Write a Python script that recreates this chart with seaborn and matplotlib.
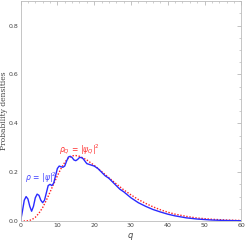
import numpy as np
import pandas as pd
import seaborn as sns
import matplotlib.pyplot as plt

# blue: rho = |psi|^2
q_psi = [0, 0.5, 1.0, 1.5, 2.0, 2.5, 3.0, 3.5, 4.0, 4.5, 5.0, 5.5, 6.0, 6.5, 7.0, 7.5, 8.0, 8.5,
         9.0, 9.5, 10.0, 10.5, 11.0, 11.5, 12.0, 12.5, 13.0, 13.5, 14.0, 14.5, 15.0, 15.5, 16.0,
         16.5, 17.0, 17.5, 18.0, 19.0, 20.0, 21.0, 22.0, 23.0, 24.0, 25.0, 26.0, 27.0, 28.0, 30.0,
         32.0, 34.0, 36.0, 38.0, 40.0, 42.0, 45.0, 48.0, 52.0, 56.0, 60.0]
rho_psi = [0.0, 0.04, 0.085, 0.10, 0.09, 0.06, 0.04, 0.06, 0.095, 0.11, 0.105, 0.085, 0.075, 0.085,
           0.115, 0.145, 0.15, 0.145, 0.155, 0.185, 0.215, 0.225, 0.222, 0.22, 0.225, 0.245, 0.262,
           0.265, 0.26, 0.25, 0.247, 0.252, 0.26, 0.26, 0.255, 0.245, 0.235, 0.23, 0.225, 0.215,
           0.2, 0.185, 0.175, 0.16, 0.145, 0.13, 0.12, 0.095, 0.075, 0.06, 0.047, 0.037, 0.028,
           0.021, 0.013, 0.008, 0.004, 0.002, 0.001]

# red dotted: rho_Q = |psi_Q|^2
q_Q = [0, 1, 2, 3, 4, 5, 6, 7, 8, 9, 10, 11, 12, 13, 14, 15, 16, 17, 18, 20, 22, 24, 26, 28,
       30, 32, 34, 36, 38, 40, 42, 45, 48, 52, 56, 60]
rho_Q = [0.0, 0.0, 0.001, 0.005, 0.015, 0.032, 0.055, 0.085, 0.118, 0.152, 0.185, 0.215, 0.24,
         0.258, 0.267, 0.268, 0.265, 0.258, 0.25, 0.228, 0.203, 0.177, 0.152, 0.128, 0.107,
         0.088, 0.072, 0.058, 0.046, 0.036, 0.028, 0.019, 0.012, 0.007, 0.004, 0.002]

sns.set_theme(style="white")
plt.rcParams['font.family'] = ['DejaVu Sans']

fig, ax = plt.subplots(figsize=(2.45, 2.41), dpi=100)
fig.subplots_adjust(left=0.084, right=0.985, top=0.995, bottom=0.083)

df_psi = pd.DataFrame({"q": q_psi, "rho": rho_psi})
df_Q = pd.DataFrame({"q": q_Q, "rho": rho_Q})
sns.lineplot(data=df_Q, x="q", y="rho", ax=ax, color="#ff2020", lw=1.0, linestyle=(0, (1, 1.2)))
sns.lineplot(data=df_psi, x="q", y="rho", ax=ax, color="#2a2aff", lw=1.0)

ax.set_xlim(0, 60)
ax.set_ylim(0, 0.9)
ax.set_xticks([0, 10, 20, 30, 40, 50, 60])
ax.set_yticks([0.0, 0.2, 0.4, 0.6, 0.8])
ax.set_yticklabels(["0.0", "0.2", "0.4", "0.6", "0.8"])
ax.set_xticks(np.arange(0, 61, 2), minor=True)
ax.set_yticks(np.arange(0, 0.91, 0.05), minor=True)
ax.tick_params(which="both", direction="in", top=True, right=True, colors="#aaaaaa",
               labelcolor="#444444", labelsize=4.5, pad=1.5)
ax.tick_params(which="major", length=3, width=0.5)
ax.tick_params(which="minor", length=1.5, width=0.4)
for s in ax.spines.values():
    s.set_color("#bbbbbb")
    s.set_linewidth(0.6)

ax.set_xlabel("$q$", fontsize=6, family="serif", color="#444444", labelpad=2)
ax.set_ylabel("Probability densities", fontsize=5.5, family="serif", color="#444444", labelpad=0.5)

ax.text(1.2, 0.165, r"$\rho\,=\,|\psi|^2$", color="#4040ff", fontsize=5.5)
ax.text(10.5, 0.28, r"$\rho_Q\,=\,|\psi_Q|^2$", color="#ff3030", fontsize=5.5)

fig.savefig("out.png", dpi=100)
